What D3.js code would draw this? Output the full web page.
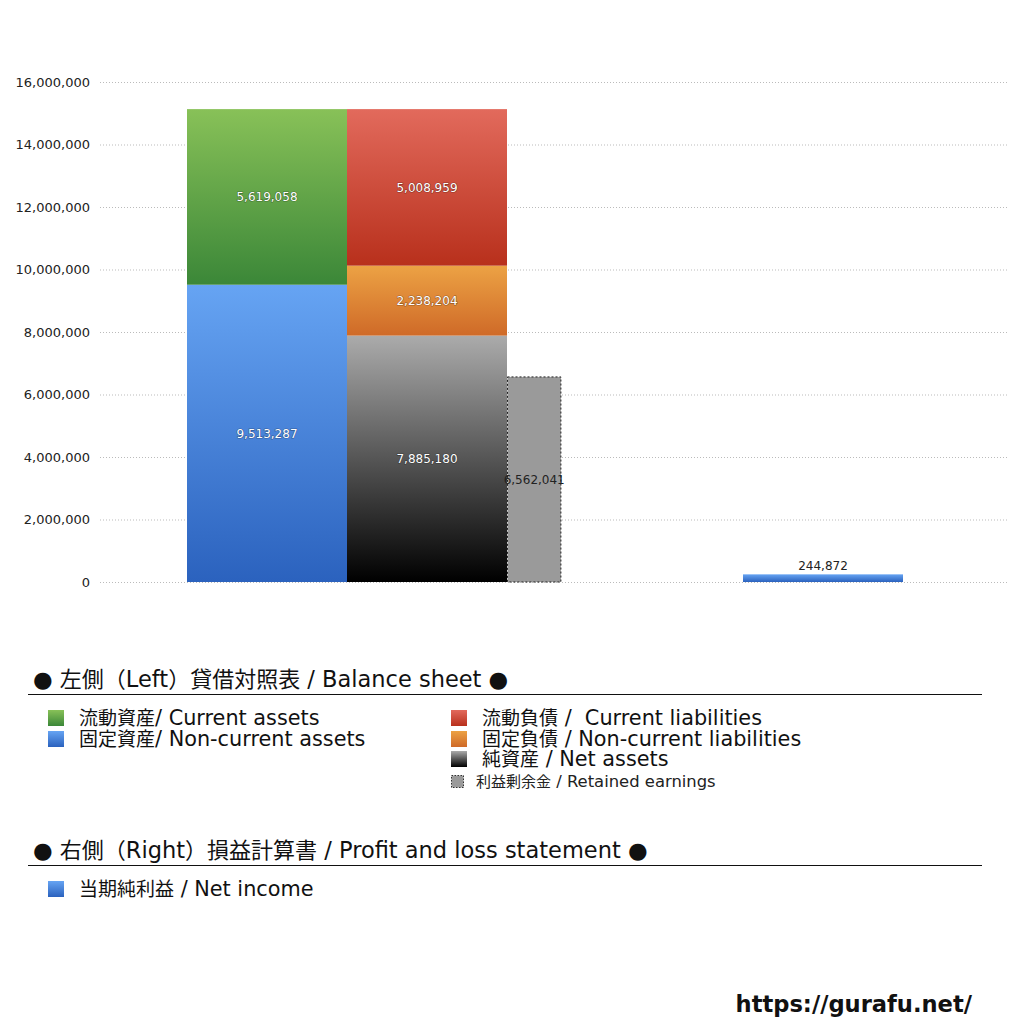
<!DOCTYPE html>
<html>
<head>
<meta charset="utf-8">
<script src="https://cdn.jsdelivr.net/npm/d3@7"></script>
<style>
  body { margin: 0; background: #fff; }
  svg { font-family: "DejaVu Sans", "Noto Sans CJK JP", sans-serif; }
  .val-in { fill: #fff; font-size: 12px; paint-order: stroke; stroke: rgba(0,0,0,0.35); stroke-width: 1.2px; }
  .tick text { font-size: 13px; fill: #222; font-family: "DejaVu Sans", sans-serif; }
</style>
</head>
<body>
<svg width="1024" height="1024"></svg>
<script>
// assets (left column of balance sheet), bottom to top
const assetNames = ['固定資産', '流動資産'];
const assetValues = [9513287, 5619058];
// liabilities + net assets, bottom to top
const liabNames = ['純資産', '固定負債', '流動負債'];
const liabValues = [7885180, 2238204, 5008959];
const retainedEarnings = 6562041;
const netIncome = 244872;
const yTicks = [0, 2000000, 4000000, 6000000, 8000000, 10000000, 12000000, 14000000, 16000000];

const svg = d3.select('svg');

const margin = { top: 82, left: 100, right: 17, bottom: 442 };
const innerWidth = 1024 - margin.left - margin.right;
const innerHeight = 1024 - margin.top - margin.bottom;

// gradients
const defs = svg.append('defs');
const grads = {
    green: ['#88c158', '#3b8738'],
    blue: ['#66a4f3', '#2b62be'],
    red: ['#e26a5c', '#b8301c'],
    orange: ['#eca244', '#cf6a28'],
    black: ['#ababab', '#000000']
};
Object.entries(grads).forEach(([k, c]) => {
    const lg = defs.append('linearGradient').attr('id', 'g-' + k)
        .attr('x1', 0).attr('y1', 0).attr('x2', 0).attr('y2', 1);
    lg.append('stop').attr('offset', '0%').attr('stop-color', c[0]);
    lg.append('stop').attr('offset', '100%').attr('stop-color', c[1]);
});

const g = svg.append('g')
    .attr('transform', `translate(${margin.left},${margin.top})`);

const yScale = d3.scaleLinear()
    .domain([0, 16000000])
    .range([innerHeight, 0]);

// slot positions along x (in bar widths)
const xScale = d3.scaleLinear()
    .domain([0, 1])
    .range([87, 247]);
const barW = xScale(1) - xScale(0);

const yAxis = d3.axisLeft(yScale)
    .tickValues(yTicks)
    .tickFormat(d3.format(','))
    .tickSize(-innerWidth)
    .tickPadding(10);

const yAxisGroup = g.append('g').call(yAxis);
yAxisGroup.select('.domain').remove();
yAxisGroup.selectAll('.tick line')
    .attr('stroke', '#bbb')
    .attr('stroke-dasharray', '1,2');

// stack helper
const stackUp = vals => {
    let acc = 0;
    return vals.map(v => { const d = { y0: acc, y1: acc + v, v }; acc += v; return d; });
};

const assetStack = stackUp(assetValues);
const assetFill = ['blue', 'green'];
const liabStack = stackUp(liabValues);
const liabFill = ['black', 'orange', 'red'];

const drawStack = (stack, fills, slot) => {
    g.selectAll(null)
        .data(stack)
        .enter()
        .append('rect')
        .attr('x', xScale(slot))
        .attr('width', barW)
        .attr('y', d => yScale(d.y1))
        .attr('height', d => yScale(d.y0) - yScale(d.y1))
        .attr('fill', (d, i) => `url(#g-${fills[i]})`);
    g.selectAll(null)
        .data(stack)
        .enter()
        .append('text')
        .attr('class', 'val-in')
        .attr('x', xScale(slot) + barW / 2)
        .attr('y', d => yScale((d.y0 + d.y1) / 2))
        .attr('dy', '0.35em')
        .attr('text-anchor', 'middle')
        .text(d => d3.format(',')(d.v));
};

drawStack(assetStack, assetFill, 0);
drawStack(liabStack, liabFill, 1);

// retained earnings
const reX = xScale(2);
const reW = barW * 0.34;
g.append('rect')
    .attr('x', reX + 0.5)
    .attr('width', reW - 1)
    .attr('y', yScale(retainedEarnings))
    .attr('height', yScale(0) - yScale(retainedEarnings))
    .attr('fill', '#9a9a9a')
    .attr('stroke', '#222')
    .attr('stroke-width', 1)
    .attr('stroke-dasharray', '2,2');
g.append('text')
    .attr('x', reX + reW / 2)
    .attr('y', yScale(retainedEarnings / 2))
    .attr('dy', '0.35em')
    .attr('text-anchor', 'middle')
    .attr('font-size', 12)
    .attr('fill', '#222')
    .text(d3.format(',')(retainedEarnings));

// net income (right)
const niX = xScale(3.475);
g.append('rect')
    .attr('x', niX)
    .attr('width', barW)
    .attr('y', yScale(netIncome))
    .attr('height', yScale(0) - yScale(netIncome))
    .attr('fill', 'url(#g-blue)');
g.append('text')
    .attr('x', niX + barW / 2)
    .attr('y', yScale(netIncome) - 4)
    .attr('text-anchor', 'middle')
    .attr('font-size', 12)
    .attr('fill', '#222')
    .text(d3.format(',')(netIncome));

// text with CJK runs and latin runs at slightly different sizes
const cjk = /[\u3000-\u9fff\uff00-\uffef]/;
const mixedText = (sel, str, cjkSize, latSize) => {
    str.match(/[\u3000-\u9fff\uff00-\uffef]+|[^\u3000-\u9fff\uff00-\uffef]+/g).forEach(run => {
        sel.append('tspan')
            .attr('font-size', cjk.test(run) ? cjkSize : latSize)
            .text(run);
    });
    return sel;
};

// legend
const lg = svg.append('g');
mixedText(lg.append('text').attr('x', 33).attr('y', 687).attr('fill', '#111').style('white-space', 'pre'),
    '● 左側（Left）貸借対照表 / Balance sheet ●', 22, 22.5);
lg.append('line').attr('x1', 28).attr('x2', 982).attr('y1', 694.5).attr('y2', 694.5)
    .attr('stroke', '#111').attr('stroke-width', 1);

const legendItems = [
    { x: 48, y: 718, fill: 'green', label: '流動資産/ Current assets' },
    { x: 48, y: 739, fill: 'blue', label: '固定資産/ Non-current assets' },
    { x: 451, y: 718, fill: 'red', label: '流動負債 /  Current liabilities' },
    { x: 451, y: 739, fill: 'orange', label: '固定負債 / Non-current liabilities' },
    { x: 451, y: 759, fill: 'black', label: '純資産 / Net assets' },
    { x: 48, y: 889, fill: 'blue', label: '当期純利益 / Net income' }
];
legendItems.forEach(d => {
    lg.append('rect').attr('x', d.x).attr('y', d.y - 8).attr('width', 16).attr('height', 16)
        .attr('fill', `url(#g-${d.fill})`);
    const t = lg.append('text').attr('x', d.x + 31).attr('y', d.y + 7)
        .attr('fill', '#111')
        .style('white-space', 'pre');
    mixedText(t, d.label, 19, 20.8);
});
lg.append('rect').attr('x', 451.5).attr('y', 775.5).attr('width', 12).attr('height', 12)
    .attr('fill', '#9a9a9a').attr('stroke', '#333').attr('stroke-dasharray', '1.5,1.5');
mixedText(lg.append('text').attr('x', 476).attr('y', 786.5).attr('fill', '#222'),
    '利益剰余金 / Retained earnings', 15, 16.4);

mixedText(lg.append('text').attr('x', 33).attr('y', 858).attr('fill', '#111').style('white-space', 'pre'),
    '● 右側（Right）損益計算書 / Profit and loss statement ●', 22, 22.5);
lg.append('line').attr('x1', 28).attr('x2', 982).attr('y1', 865.5).attr('y2', 865.5)
    .attr('stroke', '#111').attr('stroke-width', 1);

svg.append('text').attr('x', 972).attr('y', 1012).attr('text-anchor', 'end')
    .attr('font-weight', 'bold').attr('font-size', 22.6).attr('fill', '#111')
    .text('https://gurafu.net/');
</script>
</body>
</html>
